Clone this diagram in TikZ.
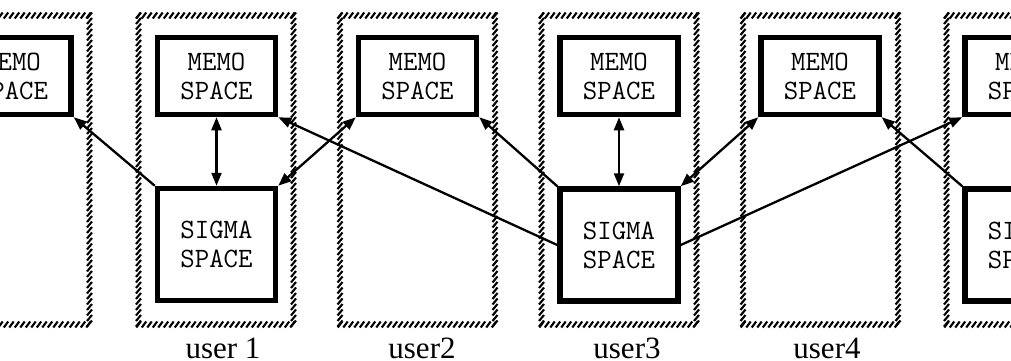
\documentclass[tikz,border=0pt]{standalone}
\usepackage{fontspec}
\setmainfont{Liberation Serif}
\newcommand\boxfont{\ttfamily\addfontfeatures{FakeBold=1.2}}
\usetikzlibrary{arrows.meta}
\begin{document}
\begin{tikzpicture}[x=1pt,y=-1pt,
  spacebox/.style={draw, line width=5.5pt, inner sep=0pt, align=center,
    font=\boxfont\fontsize{28}{29}\selectfont, minimum width=118pt},
  memobox/.style={spacebox, minimum height=77pt,
    execute at begin node={\rule{0pt}{31pt}}},
  sigmabox/.style={spacebox, minimum height=112pt},
  tip/.tip={Triangle[length=13pt,width=10pt]},
  link/.style={line width=2.3pt, -tip},
  twolink/.style={line width=2.3pt, tip-tip},
  hatchtick/.style={line width=2.1pt},
  userlabel/.style={font=\fontsize{31}{31}\selectfont, anchor=base, inner sep=0pt}
]
\useasboundingbox (0,0) rectangle (1011,361);
% hatched user frames
\foreach \c in {12,216,417.5,619,820.5,1024}{
  \foreach \t in {0,5.5,...,155}{
    \draw[hatchtick] (\c-77.5+\t-2.2,18.5) -- (\c-77.5+\t+2.2,12.5);
    \draw[hatchtick] (\c-77.5+\t-2.2,327.5) -- (\c-77.5+\t+2.2,321.5);
  }
  \foreach \t in {0,5.5,...,308}{
    \draw[hatchtick] (\c-80,15.5+\t+3) -- (\c-75,15.5+\t-3);
    \draw[hatchtick] (\c+75,15.5+\t+3) -- (\c+80,15.5+\t-3);
  }
}
% memo spaces
\node[memobox] (m0) at (12,76) {MEMO\\SPACE};
\node[memobox] (m1) at (216.5,76) {MEMO\\SPACE};
\node[memobox] (m2) at (417.5,76) {MEMO\\SPACE};
\node[memobox] (m3) at (619,76) {MEMO\\SPACE};
\node[memobox] (m4) at (820,76) {MEMO\\SPACE};
\node[memobox] (m5) at (1024,76) {MEMO\\SPACE};
% sigma spaces
\node[sigmabox] (s1) at (216.5,244.5) {SIGMA\\SPACE};
\node[sigmabox] (s3) at (619,245) {SIGMA\\SPACE};
\node[sigmabox] (s5) at (1024,245) {SIGMA\\SPACE};
% connectors
\draw[link] (s1.north west) -- (m0.south east);
\draw[twolink] (m1) -- (s1);
\draw[twolink] (s1.north east) -- (m2.south west);
\draw[link] (s3.west) -- (m1.south east);
\draw[link] (s3.north west) -- (m2.south east);
\draw[twolink] (m3) -- (s3);
\draw[twolink] (s3.north east) -- (m4.south west);
\draw[link] (s3.east) -- (m5.south west);
\draw[link] (s5.north west) -- (m4.south east);
% labels
\node[userlabel] (u1) at (223,358) {user 1};
\node[userlabel] (u2) at (422,358) {user2};
\node[userlabel] (u3) at (627,358) {user3};
\node[userlabel] (u4) at (827,358) {user4};
\end{tikzpicture}
\end{document}
